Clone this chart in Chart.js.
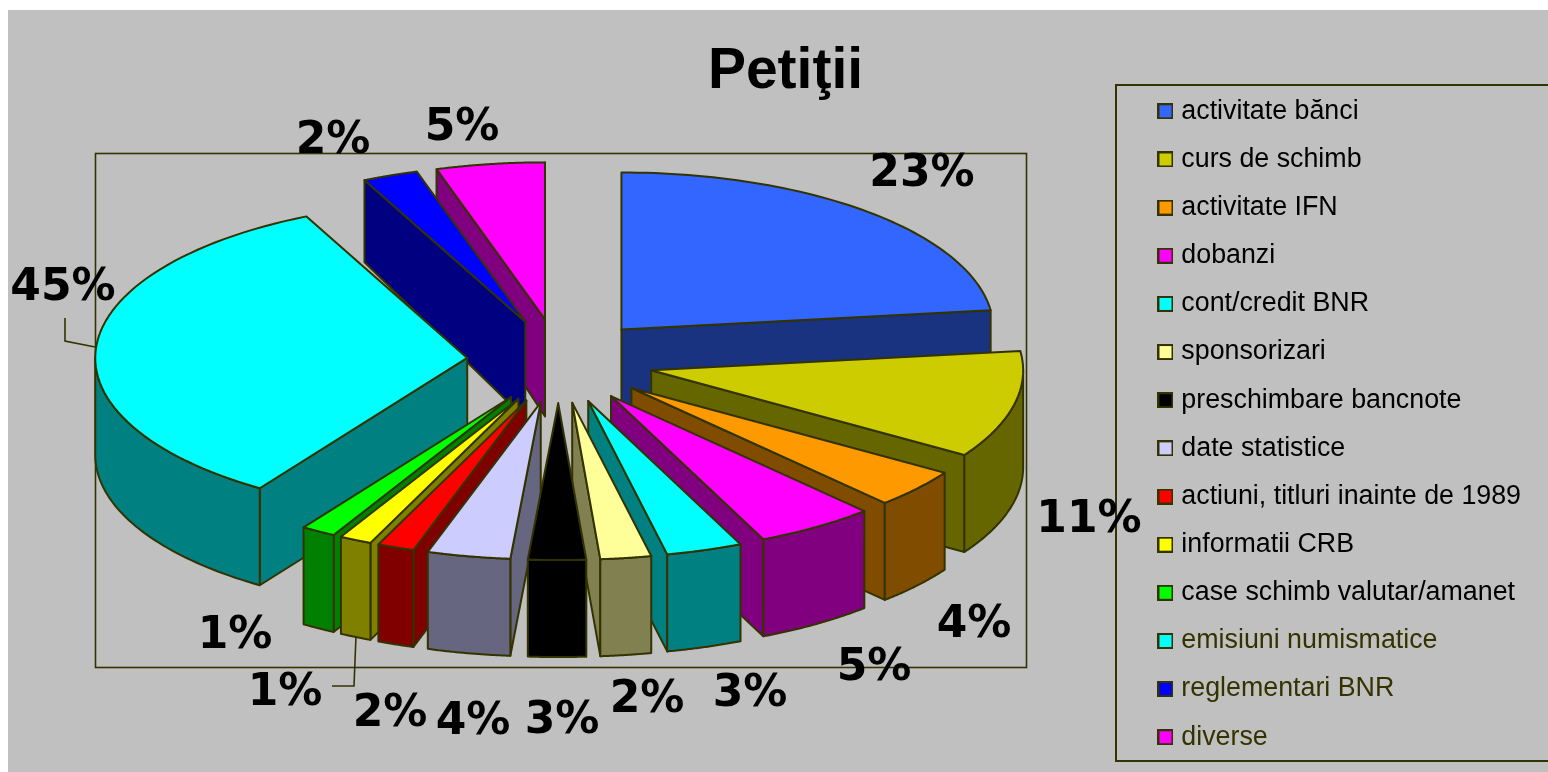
<!DOCTYPE html>
<html>
<head>
<meta charset="utf-8">
<style>
html,body{margin:0;padding:0;background:#fff;width:1548px;height:772px;overflow:hidden}
canvas{position:absolute;left:8px;top:10px;display:block}
</style>
<script src="https://cdn.jsdelivr.net/npm/chart.js@4"></script>
</head>
<body>
<canvas id="c" width="1540" height="762"></canvas>
<script>
const titleText = 'Petiţii';
const categories = ['activitate bănci','curs de schimb','activitate IFN','dobanzi','cont/credit BNR','sponsorizari','preschimbare bancnote','date statistice','actiuni, titluri inainte de 1989','informatii CRB','case schimb valutar/amanet','emisiuni numismatice','reglementari BNR','diverse'];
const sliceShares = [23,11,4,5.2,3.3,2.2,2.5,3.6,1.6,1.4,1.5,33.4,2.4,4.7];
// Percent labels as printed on the picture.
const printedLabels = ['23%','11%','4%','5%','3%','2%','3%','4%','2%','1%','1%','45%','2%','5%'];
const topColors = ['#3366FF','#CCCC00','#FF9900','#FF00FF','#00FFFF','#FFFF99','#000000','#CCCCFF','#FF0000','#FFFF00','#00FF00','#00FFFF','#0000FF','#FF00FF'];
const sideColors = ['#1A3380','#666600','#804C00','#800080','#008080','#808050','#000000','#666680','#800000','#808000','#008000','#008080','#000080','#800080'];
const legendTextColors = ['#000','#000','#000','#000','#000','#000','#000','#000','#000','#000','#000','#333300','#333300','#333300'];
// Text spots for the printed labels (canvas pixels = page minus 8,10).
const labelSpots = [[914,165],[1081,511],[966,616],[866,659],[742,685],[639,691],[554,712],[465,713],[382,705],[277,684],[227,627],[55,279],[325,132],[454,119]];

const INK = '#333300';
const view = {cx:550.5, cy:351, radius:372, tilt:157/372, explode:95, explodeLeft:91.5, explodeTilt:0.443};

function wallDepth(y){
  const t = Math.min(1, Math.max(0, (y - 175) / 120));
  return 82 + 15 * t;
}
function swatch(color){
  const s = document.createElement('canvas');
  s.width = 16; s.height = 16;
  const g = s.getContext('2d');
  g.fillStyle = color; g.fillRect(0,0,16,16);
  g.strokeStyle = INK; g.lineWidth = 2; g.strokeRect(1,1,14,14);
  return s;
}
function poly(ctx, pts, fill){
  ctx.beginPath();
  pts.forEach((p,i)=> i ? ctx.lineTo(p[0],p[1]) : ctx.moveTo(p[0],p[1]));
  ctx.closePath();
  ctx.fillStyle = fill; ctx.fill();
  ctx.stroke();
}
const pie3d = {
  id:'pie3d',
  beforeDraw(chart){
    const c = chart.ctx;
    c.save();
    c.fillStyle = '#C0C0C0'; c.fillRect(0,0,chart.width,chart.height);
    c.strokeStyle = INK; c.lineWidth = 1.6;
    c.strokeRect(87.5,143.5,931,514);
    c.lineWidth = 2;
    c.beginPath(); c.moveTo(1545,75); c.lineTo(1108,75); c.lineTo(1108,751); c.lineTo(1545,751); c.stroke();
    c.restore();
  },
  beforeDatasetDraw(chart){
    const ctx = chart.ctx;
    const arcs = chart.getDatasetMeta(0).data;
    const order = arcs.map((a,i)=>i).sort((p,q)=>{
      const mp=(arcs[p].startAngle+arcs[p].endAngle)/2, mq=(arcs[q].startAngle+arcs[q].endAngle)/2;
      return Math.sin(mp)-Math.sin(mq);
    });
    ctx.save();
    ctx.lineWidth = 2; ctx.strokeStyle = INK; ctx.lineJoin = 'round';
    order.forEach(i=>{
      const a = arcs[i], s = a.startAngle, e = a.endAngle, m = (s+e)/2, R = a.outerRadius;
      const ox = view.cx + (Math.cos(m) < 0 ? view.explodeLeft : view.explode)*Math.cos(m);
      const oy = view.cy + view.explode*Math.sin(m)*view.explodeTilt;
      const at = t => [ox + R*Math.cos(t), oy + R*Math.sin(t)*view.tilt];
      const low = p => [p[0], p[1] + wallDepth(p[1])];
      const apex = [ox,oy];
      if (Math.sin(s - Math.PI/2) > 0) { const p = at(s); poly(ctx,[apex,p,low(p),low(apex)],sideColors[i]); }
      if (Math.sin(e + Math.PI/2) > 0) { const p = at(e); poly(ctx,[apex,p,low(p),low(apex)],sideColors[i]); }
      const f0 = Math.max(s, 0), f1 = Math.min(e, Math.PI);
      if (f1 > f0) {
        const rim = [];
        for (let k=0;k<=48;k++) rim.push(at(f0+(f1-f0)*k/48));
        poly(ctx, rim.concat(rim.slice().reverse().map(low)), sideColors[i]);
      }
      const top = [apex];
      for (let k=0;k<=64;k++) top.push(at(s+(e-s)*k/64));
      poly(ctx, top, topColors[i]);
    });
    ctx.restore();
    return false;
  },
  afterDraw(chart){
    const c = chart.ctx;
    c.save();
    c.strokeStyle = INK; c.lineWidth = 1.6;
    c.beginPath(); c.moveTo(57,308); c.lineTo(57,331); c.lineTo(87,337); c.stroke();
    c.beginPath(); c.moveTo(324,676); c.lineTo(346,676); c.lineTo(348,626); c.stroke();
    c.fillStyle = '#000'; c.font = 'bold 44px "DejaVu Sans"';
    c.textAlign = 'center'; c.textBaseline = 'middle';
    printedLabels.forEach((t,i)=> c.fillText(t, labelSpots[i][0], labelSpots[i][1]));
    c.restore();
  }
};
new Chart(document.getElementById('c'),{
  type:'pie',
  plugins:[pie3d],
  data:{labels:categories,datasets:[{data:sliceShares,backgroundColor:topColors,radius:view.radius}]},
  options:{
    responsive:false,
    animation:false,
    layout:{padding:{left:32,right:17,top:0,bottom:0}},
    plugins:{
      tooltip:{enabled:false},
      title:{display:true,text:titleText,color:'#000',
        font:{family:'"Liberation Sans"',size:57,weight:'bold',lineHeight:1.1},
        padding:{top:31,bottom:-19.7}},
      legend:{display:true,position:'right',align:'end',
        labels:{
          usePointStyle:true,pointStyleWidth:5,boxHeight:16,
          padding:21.35,
          font:{family:'"Liberation Sans"',size:26.8},
          generateLabels:()=>categories.map((t,i)=>({text:t,fontColor:legendTextColors[i],pointStyle:swatch(topColors[i]),fillStyle:topColors[i],strokeStyle:INK,lineWidth:0,hidden:false,index:i}))
        }
      }
    }
  }
});
</script>
</body>
</html>
